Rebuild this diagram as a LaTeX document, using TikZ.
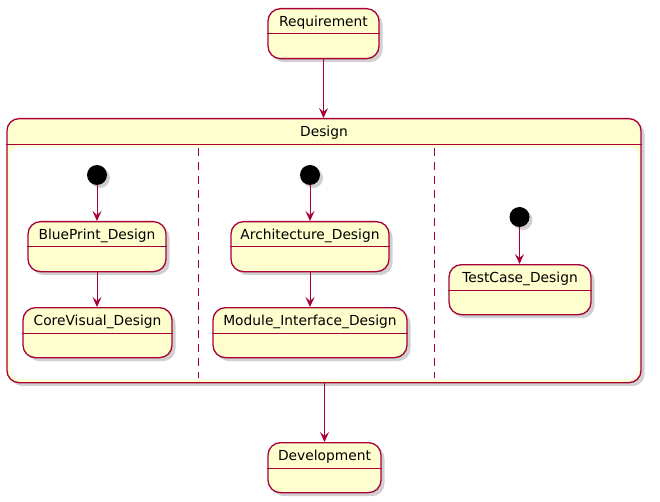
\documentclass[tikz,border=0pt]{standalone}
\usepackage{fontspec}
\setmainfont{DejaVu Sans}
\usetikzlibrary{arrows.meta,shadows}
\definecolor{pfill}{HTML}{FEFECE}
\definecolor{pline}{HTML}{A80036}
\tikzset{
  stbox/.style={draw=pline, line width=1.3pt, fill=pfill, rounded corners=12.5pt,
    minimum height=50pt, inner sep=0pt,
    drop shadow={shadow xshift=3.5pt, shadow yshift=-3.5pt, fill=black!30, opacity=0.6}},
  stlabel/.style={font=\fontsize{13.8pt}{16pt}\selectfont, text=black, inner sep=0pt},
  hdr/.style={draw=pline, line width=1pt},
  initst/.style={circle, fill=black, minimum size=20pt, inner sep=0pt,
    drop shadow={shadow xshift=3pt, shadow yshift=-3pt, fill=black!30, opacity=0.6}},
  flow/.style={draw=pline, line width=1pt, -{Stealth[length=10pt, width=9pt, inset=4pt]}},
  sep/.style={draw=pline, line width=1pt, dash pattern=on 8pt off 6pt}
}
\begin{document}
\begin{tikzpicture}[x=1pt, y=-1pt]
\useasboundingbox (0,0) rectangle (660,502);

% Requirement
\node[stbox, minimum width=111pt, anchor=north] (req) at (323.5,8) {};
\draw[hdr] ([yshift=-26pt]req.north west) -- ([yshift=-26pt]req.north east);
\node[stlabel] (reqt) at ([yshift=-15pt]req.north) {Requirement};

% Design composite
\node[stbox, minimum width=634pt, minimum height=264pt, rounded corners=12pt, anchor=north] (des) at (324,118) {};
\fill[white, rounded corners=9pt] (10,147) rectangle (638.5,379.5);
\draw[hdr] ([yshift=-27pt]des.north west) -- ([yshift=-27pt]des.north east);
\node[stlabel] (dest) at ([yshift=-15pt]des.north) {Design};

% separators
\coordinate (s1a) at (198,148); \coordinate (s1b) at (198,378);
\coordinate (s2a) at (434,148); \coordinate (s2b) at (434,378);
\draw[sep] (s1a) -- (s1b);
\draw[sep] (s2a) -- (s2b);

% Region 1
\node[initst] (i1) at (97,175) {};
\node[stbox, minimum width=138pt, anchor=north] (bp) at (97,221) {};
\draw[hdr] ([yshift=-26pt]bp.north west) -- ([yshift=-26pt]bp.north east);
\node[stlabel] (bpt) at ([yshift=-15pt]bp.north) {BluePrint\_Design};
\node[stbox, minimum width=149pt, anchor=north] (cv) at (97.5,307) {};
\draw[hdr] ([yshift=-26pt]cv.north west) -- ([yshift=-26pt]cv.north east);
\node[stlabel] (cvt) at ([yshift=-15pt]cv.north) {CoreVisual\_Design};

% Region 2
\node[initst] (i2) at (310,175) {};
\node[stbox, minimum width=158pt, anchor=north] (ad) at (310,221) {};
\draw[hdr] ([yshift=-26pt]ad.north west) -- ([yshift=-26pt]ad.north east);
\node[stlabel] (adt) at ([yshift=-15pt]ad.north) {Architecture\_Design};
\node[stbox, minimum width=194pt, anchor=north] (mi) at (310,307) {};
\draw[hdr] ([yshift=-26pt]mi.north west) -- ([yshift=-26pt]mi.north east);
\node[stlabel] (mit) at ([yshift=-15pt]mi.north) {Module\_Interface\_Design};

% Region 3
\node[initst] (i3) at (519.5,217) {};
\node[stbox, minimum width=142pt, anchor=north] (tc) at (520,264) {};
\draw[hdr] ([yshift=-26pt]tc.north west) -- ([yshift=-26pt]tc.north east);
\node[stlabel] (tct) at ([yshift=-15pt]tc.north) {TestCase\_Design};

% Development
\node[stbox, minimum width=113pt, anchor=north] (dev) at (324.5,442) {};
\draw[hdr] ([yshift=-26pt]dev.north west) -- ([yshift=-26pt]dev.north east);
\node[stlabel] (devt) at ([yshift=-15pt]dev.north) {Development};

% arrows
\draw[flow] (req.south) -- (des.north -| req.south);
\draw[flow] (des.south -| dev.north) -- (dev.north);
\draw[flow] (i1) -- (bp.north -| i1);
\draw[flow] (bp.south) -- (cv.north -| bp.south);
\draw[flow] (i2) -- (ad.north -| i2);
\draw[flow] (ad.south) -- (mi.north -| ad.south);
\draw[flow] (i3) -- (tc.north -| i3);
\end{tikzpicture}
\end{document}
